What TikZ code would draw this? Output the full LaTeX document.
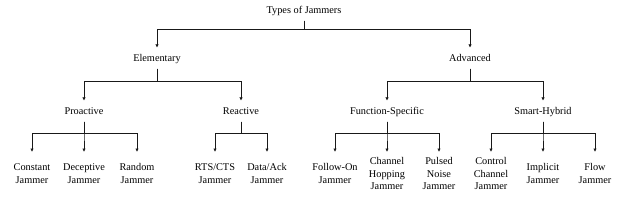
\documentclass[tikz,border=0pt]{standalone}
\usepackage{fontspec}
\setmainfont{Liberation Serif}
\usetikzlibrary{arrows.meta}

\begin{document}
\begin{tikzpicture}[x=1pt, y=-1pt,
    font=\fontsize{10.3}{12.5}\selectfont,
    typebox/.style={anchor=base, text height=8pt, text depth=2.5pt, inner xsep=2pt, inner ysep=5pt},
    leafbox/.style={anchor=north, align=center, minimum height=43pt, inner sep=2pt},
    arr/.style={draw=black!90, line width=0.85pt, -{Latex[length=3.5pt, width=3.5pt]}}]
  \useasboundingbox (0,0) rectangle (624,207);
  % root and the two main kinds
  \node[typebox] (root) at (304,13) {Types of Jammers};
  \node[typebox] (elem) at (157,61) {Elementary};
  \node[typebox] (adv) at (470,61) {Advanced};
  % second level
  \node[typebox] (pro) at (84,114) {Proactive};
  \node[typebox] (rea) at (241,114) {Reactive};
  \node[typebox] (fun) at (387,114) {Function-Specific};
  \node[typebox] (sma) at (543,114) {Smart-Hybrid};
  % leaves
  \node[leafbox] (con) at (32,152) {Constant\\Jammer};
  \node[leafbox] (dec) at (84,152) {Deceptive\\Jammer};
  \node[leafbox] (ran) at (137,152) {Random\\Jammer};
  \node[leafbox] (rts) at (215,152) {RTS/CTS\\Jammer};
  \node[leafbox] (dat) at (267,152) {Data/Ack\\Jammer};
  \node[leafbox] (fol) at (335,152) {Follow-On\\Jammer};
  \node[leafbox] (cha) at (387,152) {Channel\\Hopping\\Jammer};
  \node[leafbox] (pul) at (439,152) {Pulsed\\Noise\\Jammer};
  \node[leafbox] (ctl) at (491,152) {Control\\Channel\\Jammer};
  \node[leafbox] (imp) at (543,152) {Implicit\\Jammer};
  \node[leafbox] (flo) at (595,152) {Flow\\Jammer};
  % connectors
  \foreach \p/\c/\g in {root/elem/8.5, root/adv/8.5, elem/pro/12.5, elem/rea/12.5,
      adv/fun/12.5, adv/sma/12.5, pro/con/11.5, pro/dec/11.5, pro/ran/11.5,
      rea/rts/11.5, rea/dat/11.5, fun/fol/11.5, fun/cha/11.5, fun/pul/11.5,
      sma/ctl/11.5, sma/imp/11.5, sma/flo/11.5}
    \draw[arr] (\p.south) -- ++(0,\g) -| (\c.north);
\end{tikzpicture}
\end{document}
